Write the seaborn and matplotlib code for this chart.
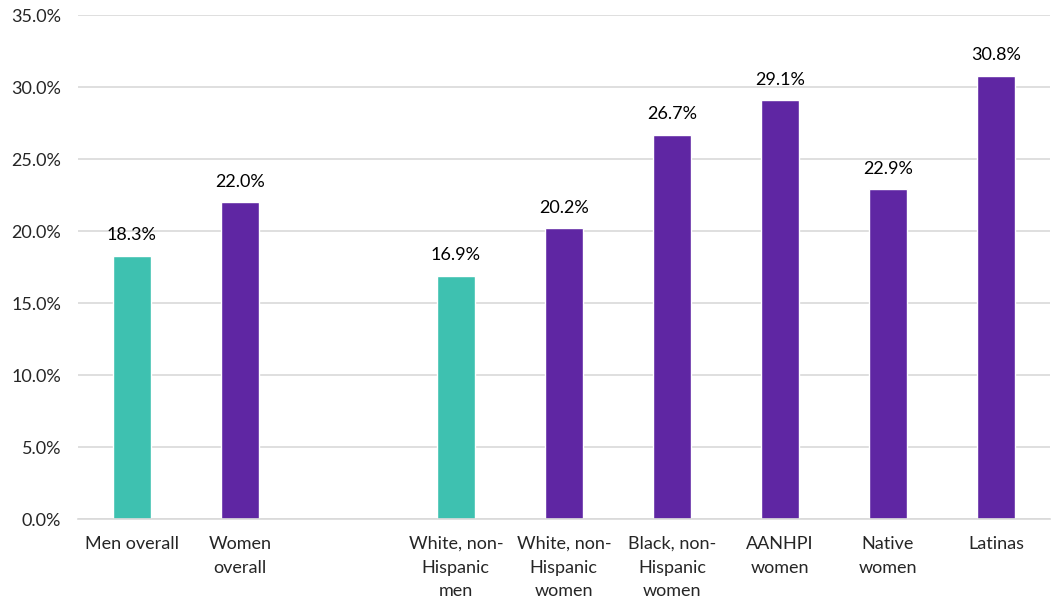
import pandas as pd
import seaborn as sns
import matplotlib.pyplot as plt
import numpy as np

categories = ["Men overall", "Women\noverall", "",
              "White, non-\nHispanic\nmen", "White, non-\nHispanic\nwomen",
              "Black, non-\nHispanic\nwomen", "AANHPI\nwomen", "Native\nwomen", "Latinas"]
values = [18.3, 22.0, np.nan, 16.9, 20.2, 26.7, 29.1, 22.9, 30.8]
groups = ["men", "women", "women", "men", "women", "women", "women", "women", "women"]
yticks = [0, 5, 10, 15, 20, 25, 30, 35]

df = pd.DataFrame({"category": categories, "value": values, "group": groups})

sns.set_style("white")
plt.rcParams['font.family'] = ['Lato', 'DejaVu Sans']

fig = plt.figure(figsize=(10.51, 6.05), dpi=100)
ax = fig.add_axes([0.074, 0.142, 0.925, 0.833])

ax = sns.barplot(data=df, x="category", y="value", hue="group", dodge=False,
                 palette={"men": "#3EC1B0", "women": "#5F26A3"}, saturation=1,
                 width=0.35, legend=False, ax=ax)

for c in ax.containers:
    labels = ["" if np.isnan(v) else "%.1f%%" % v for v in c.datavalues]
    ax.bar_label(c, labels=labels, padding=9, fontsize=13, color="#000000")

ax.set_ylim(0, 35)
ax.set_yticks(yticks)
ax.set_yticklabels(["%.1f%%" % t for t in yticks], fontsize=13)
ax.tick_params(axis="x", labelsize=13, length=0, pad=12)
ax.tick_params(axis="y", length=0, pad=12)
for lab in ax.get_xticklabels():
    lab.set_linespacing(1.6)
ax.set_xlim(-0.5, len(categories) - 0.5)
ax.set_xlabel("")
ax.set_ylabel("")
ax.yaxis.grid(True, color="#D9D9D9", linewidth=1.2)
ax.set_axisbelow(True)
sns.despine(ax=ax, left=True, top=True, right=True)
ax.spines["bottom"].set_color("#D9D9D9")
ax.spines["bottom"].set_linewidth(1.2)

plt.savefig("out.png", dpi=100)
